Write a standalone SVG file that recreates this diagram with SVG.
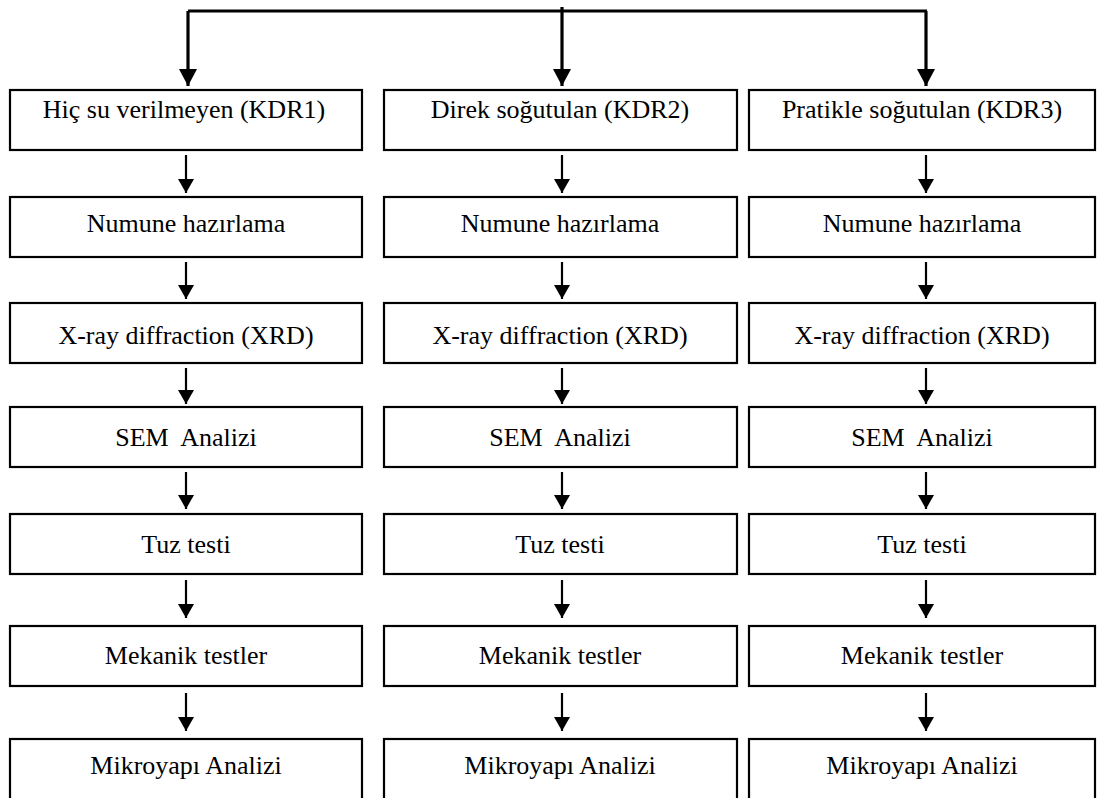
<svg xmlns="http://www.w3.org/2000/svg" width="1097" height="798" viewBox="0 0 1097 798">
<style>
.box{fill:#fff;stroke:#000;stroke-width:2.2}
.lbl{font-family:"Liberation Serif","Times New Roman",serif;font-size:26px;fill:#000;text-anchor:middle}
.c{fill:none;stroke:#000;stroke-width:2.2}
.t{fill:none;stroke:#000;stroke-width:3.2}
</style>
<defs>
<marker id="ah" markerUnits="userSpaceOnUse" markerWidth="14" markerHeight="16" refX="14" refY="8" orient="auto" viewBox="0 0 14 16">
<path d="M0,0 L14,8 L0,16 z" fill="#000"/>
</marker>
<marker id="ahb" markerUnits="userSpaceOnUse" markerWidth="17" markerHeight="18" refX="17" refY="9" orient="auto" viewBox="0 0 17 18">
<path d="M0,0 L17,9 L0,18 z" fill="#000"/>
</marker>
</defs>
<rect width="1097" height="798" fill="#fff"/>
<g id="connectors">
<path class="t" d="M188,11 H927"/>
<path class="t" d="M188,11 V86" marker-end="url(#ahb)"/>
<path class="t" d="M562,7 V86" marker-end="url(#ahb)"/>
<path class="t" d="M926,11 V86" marker-end="url(#ahb)"/>
<g id="col1-arrows">
<path class="c" d="M186,155 V193" marker-end="url(#ah)"/>
<path class="c" d="M186,262 V299" marker-end="url(#ah)"/>
<path class="c" d="M186,368 V404" marker-end="url(#ah)"/>
<path class="c" d="M186,472 V509" marker-end="url(#ah)"/>
<path class="c" d="M186,580 V618" marker-end="url(#ah)"/>
<path class="c" d="M186,693 V731" marker-end="url(#ah)"/>
</g>
<g id="col2-arrows">
<path class="c" d="M562,155 V193" marker-end="url(#ah)"/>
<path class="c" d="M562,262 V299" marker-end="url(#ah)"/>
<path class="c" d="M562,368 V404" marker-end="url(#ah)"/>
<path class="c" d="M562,472 V509" marker-end="url(#ah)"/>
<path class="c" d="M562,580 V618" marker-end="url(#ah)"/>
<path class="c" d="M562,693 V731" marker-end="url(#ah)"/>
</g>
<g id="col3-arrows">
<path class="c" d="M926,155 V193" marker-end="url(#ah)"/>
<path class="c" d="M926,262 V299" marker-end="url(#ah)"/>
<path class="c" d="M926,368 V404" marker-end="url(#ah)"/>
<path class="c" d="M926,472 V509" marker-end="url(#ah)"/>
<path class="c" d="M926,580 V618" marker-end="url(#ah)"/>
<path class="c" d="M926,693 V731" marker-end="url(#ah)"/>
</g>
</g>
<g id="n1a"><rect class="box" x="10" y="90" width="352" height="60"/><text class="lbl" x="184" y="118">Hiç su verilmeyen (KDR1)</text></g>
<g id="n1b"><rect class="box" x="10" y="197" width="352" height="60"/><text class="lbl" x="186" y="232">Numune hazırlama</text></g>
<g id="n1c"><rect class="box" x="10" y="303" width="352" height="60"/><text class="lbl" x="186" y="344">X-ray diffraction (XRD)</text></g>
<g id="n1d"><rect class="box" x="10" y="407" width="352" height="60"/><text class="lbl" x="186" y="446" xml:space="preserve">SEM  Analizi</text></g>
<g id="n1e"><rect class="box" x="10" y="514" width="352" height="60"/><text class="lbl" x="186" y="553">Tuz testi</text></g>
<g id="n1f"><rect class="box" x="10" y="626" width="352" height="60"/><text class="lbl" x="186" y="664">Mekanik testler</text></g>
<g id="n1g"><rect class="box" x="10" y="739" width="352" height="62"/><text class="lbl" x="186" y="774">Mikroyapı Analizi</text></g>

<g id="n2a"><rect class="box" x="384" y="90" width="353" height="60"/><text class="lbl" x="560" y="118">Direk soğutulan (KDR2)</text></g>
<g id="n2b"><rect class="box" x="384" y="197" width="353" height="60"/><text class="lbl" x="560" y="232">Numune hazırlama</text></g>
<g id="n2c"><rect class="box" x="384" y="303" width="353" height="60"/><text class="lbl" x="560" y="344">X-ray diffraction (XRD)</text></g>
<g id="n2d"><rect class="box" x="384" y="407" width="353" height="60"/><text class="lbl" x="560" y="446" xml:space="preserve">SEM  Analizi</text></g>
<g id="n2e"><rect class="box" x="384" y="514" width="353" height="60"/><text class="lbl" x="560" y="553">Tuz testi</text></g>
<g id="n2f"><rect class="box" x="384" y="626" width="353" height="60"/><text class="lbl" x="560" y="664">Mekanik testler</text></g>
<g id="n2g"><rect class="box" x="384" y="739" width="353" height="62"/><text class="lbl" x="560" y="774">Mikroyapı Analizi</text></g>

<g id="n3a"><rect class="box" x="749" y="90" width="346" height="60"/><text class="lbl" x="922" y="118">Pratikle soğutulan (KDR3)</text></g>
<g id="n3b"><rect class="box" x="749" y="197" width="346" height="60"/><text class="lbl" x="922" y="232">Numune hazırlama</text></g>
<g id="n3c"><rect class="box" x="749" y="303" width="346" height="60"/><text class="lbl" x="922" y="344">X-ray diffraction (XRD)</text></g>
<g id="n3d"><rect class="box" x="749" y="407" width="346" height="60"/><text class="lbl" x="922" y="446" xml:space="preserve">SEM  Analizi</text></g>
<g id="n3e"><rect class="box" x="749" y="514" width="346" height="60"/><text class="lbl" x="922" y="553">Tuz testi</text></g>
<g id="n3f"><rect class="box" x="749" y="626" width="346" height="60"/><text class="lbl" x="922" y="664">Mekanik testler</text></g>
<g id="n3g"><rect class="box" x="749" y="739" width="346" height="62"/><text class="lbl" x="922" y="774">Mikroyapı Analizi</text></g>
</svg>
